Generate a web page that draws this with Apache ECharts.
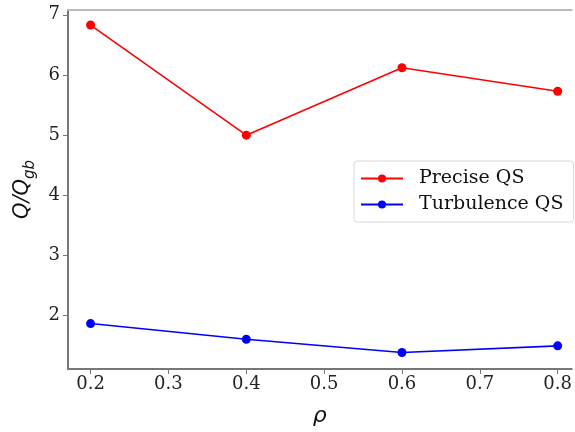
<!DOCTYPE html>
<html>
<head>
<meta charset="utf-8">
<script src="https://cdn.jsdelivr.net/npm/echarts@6/dist/echarts.min.js"></script>
<style>
  html, body { margin: 0; padding: 0; background: #fff; }
  #container { width: 575px; height: 432px; }
</style>
</head>
<body>
<div id="container"></div>
<script>
// data
var rho = [0.2, 0.4, 0.6, 0.8];
var preciseQS = [6.83, 5.0, 6.12, 5.73];
var turbulenceQS = [1.87, 1.61, 1.39, 1.50];
var seriesNames = ['Precise QS', 'Turbulence QS'];
var xTicks = [0.2, 0.3, 0.4, 0.5, 0.6, 0.7, 0.8];
var yTicks = [2, 3, 4, 5, 6, 7];

function pairs(xs, ys) {
  let out = [];
  for (let i = 0; i < xs.length; i++) {
    out.push([xs[i], ys[i]]);
  }
  return out;
}

let myChart = echarts.init(document.getElementById('container'));
let serif = 'DejaVu Serif';
let xMin = 0.171, xMax = 0.818;
let option = {
  animation: false,
  grid: {
    left: 68,
    top: 10,
    right: 0,
    bottom: 58
  },
  legend: {
    orient: 'vertical',
    left: 354,
    top: 161,
    data: seriesNames,
    itemWidth: 42,
    itemHeight: 10,
    itemGap: 7,
    padding: [8, 10, 8, 6],
    borderColor: '#d8d8d8',
    borderWidth: 1,
    borderRadius: 3,
    textStyle: { fontFamily: serif, fontSize: 19, color: '#111', padding: [0, 0, 0, 11] }
  },
  xAxis: [{
    type: 'value',
    min: xMin,
    max: xMax,
    name: 'ρ',
    nameLocation: 'middle',
    nameGap: 36,
    nameTextStyle: { fontFamily: 'DejaVu Sans', fontStyle: 'italic', fontSize: 22, color: '#111' },
    axisLine: { lineStyle: { color: '#777', width: 2 } },
    axisTick: { show: true, length: 5, customValues: xTicks, lineStyle: { color: '#777' } },
    splitLine: { show: false },
    axisLabel: {
      fontFamily: serif, fontSize: 18, color: '#222', margin: 6,
      customValues: xTicks,
      formatter: function (v) { return v.toFixed(1); }
    }
  }, {
    // top spine only
    type: 'value',
    position: 'top',
    min: xMin,
    max: xMax,
    axisLine: { show: true, lineStyle: { color: '#bbbbbb', width: 2 } },
    axisTick: { show: false },
    axisLabel: { show: false },
    splitLine: { show: false }
  }],
  yAxis: {
    type: 'value',
    min: 1.115,
    max: 7.08,
    name: '{q|Q/Q}{s|gb}',
    nameLocation: 'middle',
    nameGap: 34,
    nameTextStyle: {
      rich: {
        q: { fontFamily: 'DejaVu Sans', fontStyle: 'italic', fontSize: 21, color: '#111', lineHeight: 28, verticalAlign: 'bottom' },
        s: { fontFamily: 'DejaVu Sans', fontStyle: 'italic', fontSize: 15, color: '#111', lineHeight: 28, verticalAlign: 'bottom', padding: [0, 0, -5, 0] }
      }
    },
    axisLine: { show: true, lineStyle: { color: '#777', width: 2 } },
    axisTick: { show: true, length: 5, customValues: yTicks, lineStyle: { color: '#777' } },
    splitLine: { show: false },
    axisLabel: {
      fontFamily: serif, fontSize: 18, color: '#222', margin: 8,
      customValues: yTicks,
      formatter: function (v) { return Math.round(v).toString(); }
    }
  },
  series: [
    {
      name: seriesNames[0],
      type: 'line',
      data: pairs(rho, preciseQS),
      symbol: 'circle',
      symbolSize: 9,
      itemStyle: { color: '#ff0000' },
      lineStyle: { color: '#ff0000', width: 1.6 }
    },
    {
      name: seriesNames[1],
      type: 'line',
      data: pairs(rho, turbulenceQS),
      symbol: 'circle',
      symbolSize: 9,
      itemStyle: { color: '#0000ff' },
      lineStyle: { color: '#0000ff', width: 1.6 }
    }
  ]
};
myChart.setOption(option);
</script>
</body>
</html>
